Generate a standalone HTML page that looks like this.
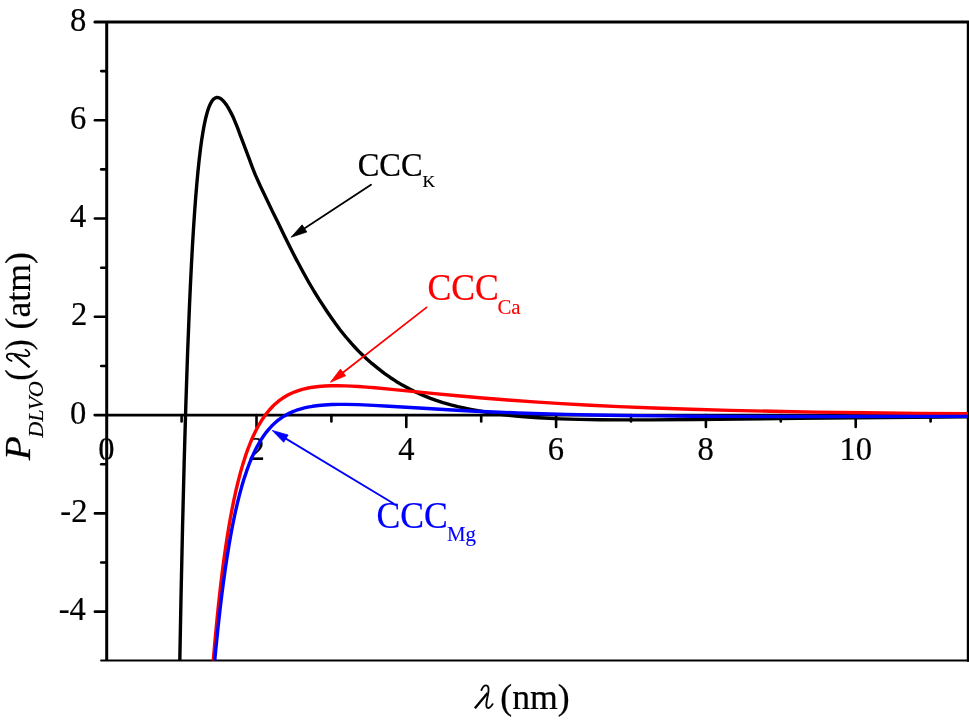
<!DOCTYPE html>
<html><head><meta charset="utf-8"><style>
html,body{margin:0;padding:0;background:#fff;width:969px;height:720px;overflow:hidden}
svg{display:block;will-change:transform}
text{font-family:"Liberation Serif",serif}
</style></head><body>
<svg width="969" height="720" viewBox="0 0 969 720">
<rect width="969" height="720" fill="#fff"/>
<line x1="106.7" y1="21.980000000000018" x2="106.7" y2="660.8" stroke="#000" stroke-width="3"/>
<line x1="94.9" y1="21.980000000000018" x2="970" y2="21.980000000000018" stroke="#000" stroke-width="3" stroke-linecap="round"/>
<line x1="968.3" y1="21.980000000000018" x2="968.3" y2="661.8" stroke="#000" stroke-width="3"/>
<line x1="101.2" y1="660.5" x2="970" y2="660.5" stroke="#000" stroke-width="2.2" stroke-linecap="round"/>
<line x1="94.7" y1="415.1" x2="970" y2="415.1" stroke="#000" stroke-width="2.7" stroke-linecap="round"/>
<line x1="94.9" y1="611.66" x2="106.7" y2="611.66" stroke="#000" stroke-width="2.6" stroke-linecap="round"/>
<line x1="101.2" y1="562.52" x2="106.7" y2="562.52" stroke="#000" stroke-width="2.6" stroke-linecap="round"/>
<line x1="94.9" y1="513.38" x2="106.7" y2="513.38" stroke="#000" stroke-width="2.6" stroke-linecap="round"/>
<line x1="101.2" y1="464.24" x2="106.7" y2="464.24" stroke="#000" stroke-width="2.6" stroke-linecap="round"/>
<line x1="101.2" y1="365.96" x2="106.7" y2="365.96" stroke="#000" stroke-width="2.6" stroke-linecap="round"/>
<line x1="94.9" y1="316.82" x2="106.7" y2="316.82" stroke="#000" stroke-width="2.6" stroke-linecap="round"/>
<line x1="101.2" y1="267.68" x2="106.7" y2="267.68" stroke="#000" stroke-width="2.6" stroke-linecap="round"/>
<line x1="94.9" y1="218.54" x2="106.7" y2="218.54" stroke="#000" stroke-width="2.6" stroke-linecap="round"/>
<line x1="101.2" y1="169.40" x2="106.7" y2="169.40" stroke="#000" stroke-width="2.6" stroke-linecap="round"/>
<line x1="94.9" y1="120.26" x2="106.7" y2="120.26" stroke="#000" stroke-width="2.6" stroke-linecap="round"/>
<line x1="101.2" y1="71.12" x2="106.7" y2="71.12" stroke="#000" stroke-width="2.6" stroke-linecap="round"/>
<line x1="181.60" y1="415.1" x2="181.60" y2="421.40" stroke="#000" stroke-width="2.6" stroke-linecap="round"/>
<line x1="256.50" y1="415.1" x2="256.50" y2="427.00" stroke="#000" stroke-width="2.6" stroke-linecap="round"/>
<line x1="331.40" y1="415.1" x2="331.40" y2="421.40" stroke="#000" stroke-width="2.6" stroke-linecap="round"/>
<line x1="406.30" y1="415.1" x2="406.30" y2="427.00" stroke="#000" stroke-width="2.6" stroke-linecap="round"/>
<line x1="481.20" y1="415.1" x2="481.20" y2="421.40" stroke="#000" stroke-width="2.6" stroke-linecap="round"/>
<line x1="556.10" y1="415.1" x2="556.10" y2="427.00" stroke="#000" stroke-width="2.6" stroke-linecap="round"/>
<line x1="631.00" y1="415.1" x2="631.00" y2="421.40" stroke="#000" stroke-width="2.6" stroke-linecap="round"/>
<line x1="705.90" y1="415.1" x2="705.90" y2="427.00" stroke="#000" stroke-width="2.6" stroke-linecap="round"/>
<line x1="780.80" y1="415.1" x2="780.80" y2="421.40" stroke="#000" stroke-width="2.6" stroke-linecap="round"/>
<line x1="855.70" y1="415.1" x2="855.70" y2="427.00" stroke="#000" stroke-width="2.6" stroke-linecap="round"/>
<line x1="930.60" y1="415.1" x2="930.60" y2="421.40" stroke="#000" stroke-width="2.6" stroke-linecap="round"/>
<text transform="matrix(0.815 0 0 0.855 58.655 620.31)" font-size="40" fill="#000" stroke="#000" stroke-width="0.25" >-4</text>
<text transform="matrix(0.815 0 0 0.855 60.285 522.03)" font-size="40" fill="#000" stroke="#000" stroke-width="0.25" >-2</text>
<text transform="matrix(0.815 0 0 0.855 70.065 423.75)" font-size="40" fill="#000" stroke="#000" stroke-width="0.25" >0</text>
<text transform="matrix(0.815 0 0 0.855 70.88 325.47)" font-size="40" fill="#000" stroke="#000" stroke-width="0.25" >2</text>
<text transform="matrix(0.815 0 0 0.855 70.065 227.19)" font-size="40" fill="#000" stroke="#000" stroke-width="0.25" >4</text>
<text transform="matrix(0.815 0 0 0.855 70.065 128.91)" font-size="40" fill="#000" stroke="#000" stroke-width="0.25" >6</text>
<text transform="matrix(0.815 0 0 0.855 70.065 30.63)" font-size="40" fill="#000" stroke="#000" stroke-width="0.25" >8</text>
<text transform="matrix(0.815 0 0 0.855 98.343 460.25)" font-size="40" fill="#000" stroke="#000" stroke-width="0.25" >0</text>
<text transform="matrix(0.815 0 0 0.855 248.55 460.25)" font-size="40" fill="#000" stroke="#000" stroke-width="0.25" >2</text>
<text transform="matrix(0.815 0 0 0.855 398.35 460.25)" font-size="40" fill="#000" stroke="#000" stroke-width="0.25" >4</text>
<text transform="matrix(0.815 0 0 0.855 547.743 460.25)" font-size="40" fill="#000" stroke="#000" stroke-width="0.25" >6</text>
<text transform="matrix(0.815 0 0 0.855 697.543 460.25)" font-size="40" fill="#000" stroke="#000" stroke-width="0.25" >8</text>
<text transform="matrix(0.815 0 0 0.855 839.577 460.25)" font-size="40" fill="#000" stroke="#000" stroke-width="0.25" >10</text>
<defs><clipPath id="c"><rect x="106" y="21" width="862" height="639.5"/></clipPath></defs><g clip-path="url(#c)">
<path d="M179.52,675.54 L180.98,598.83 L182.52,528.13 L184.14,463.44 L185.80,405.95 L187.58,353.28 L189.44,306.62 L190.42,285.09 L191.43,264.77 L192.47,245.66 L193.48,228.95 L194.51,213.44 L195.65,197.95 L196.73,184.85 L197.93,171.78 L199.16,159.92 L200.43,149.28 L201.71,139.85 L203.01,131.63 L204.29,124.64 L205.80,117.71 L207.32,112.03 L208.79,107.59 L209.66,105.43 L210.65,103.34 L211.80,101.35 L212.46,100.42 L213.19,99.56 L214.01,98.78 L214.94,98.14 L215.98,97.69 L217.13,97.49 L218.33,97.61 L219.50,98.01 L220.59,98.61 L221.60,99.34 L222.53,100.16 L224.23,101.96 L226.46,104.88 L228.92,108.97 L230.63,112.13 L232.25,115.33 L233.77,118.57 L236.89,126.19 L238.15,129.48 L240.13,134.99 L241.87,139.41 L249.41,159.36 L252.27,167.13 L255.33,174.90 L260.32,185.99 L272.45,211.36 L277.85,222.32 L284.72,236.47 L291.68,250.49 L296.64,260.12 L297.83,262.24 L303.47,272.81 L308.74,282.21 L314.21,291.50 L319.26,299.63 L327.20,311.73 L331.34,317.81 L335.61,323.82 L340.01,329.73 L343.02,333.52 L346.09,337.25 L351.62,343.66 L356.52,349.01 L359.03,351.63 L360.72,353.30 L366.79,358.99 L372.16,363.68 L377.69,368.19 L384.34,373.28 L390.21,377.47 L396.23,381.42 L402.38,385.10 L405.51,386.85 L409.73,389.10 L416.17,392.27 L419.42,393.78 L423.81,395.69 L430.47,398.37 L436.08,400.43 L442.89,402.61 L450.92,404.90 L457.86,406.65 L464.86,408.21 L470.71,409.39 L483.68,411.76 L491.97,413.08 L500.29,414.23 L508.63,415.23 L518.18,416.20 L527.74,417.01 L538.51,417.76 L549.30,418.36 L560.09,418.83 L579.28,419.42 L599.67,419.77 L622.47,419.91 L650.07,419.87 L694.47,419.51 L798.87,418.33 L855.26,417.76 L914.06,417.27 L975.54,416.86" fill="none" stroke="#000" stroke-width="3.4" stroke-linejoin="round"/>
<path d="M212.10,675.54 L213.54,657.64 L215.08,639.76 L216.64,623.07 L218.32,606.41 L220.01,590.94 L221.84,575.50 L223.67,561.27 L225.50,548.24 L227.48,535.25 L229.43,523.46 L231.56,511.70 L233.65,501.16 L235.93,490.65 L238.15,481.37 L240.56,472.13 L242.88,464.11 L245.41,456.16 L247.77,449.41 L250.36,442.75 L253.18,436.19 L254.70,432.96 L256.30,429.77 L259.15,424.55 L262.26,419.48 L264.26,416.53 L265.66,414.61 L267.86,411.80 L269.39,409.98 L272.62,406.48 L274.32,404.82 L276.08,403.22 L277.90,401.68 L279.78,400.21 L281.71,398.81 L283.69,397.49 L285.72,396.24 L287.80,395.07 L289.93,393.98 L292.09,392.97 L294.30,392.04 L297.66,390.79 L302.24,389.39 L304.56,388.79 L308.07,388.01 L312.79,387.19 L318.74,386.45 L324.72,385.98 L330.71,385.74 L337.91,385.69 L345.11,385.84 L351.10,386.09 L358.29,386.50 L366.67,387.10 L375.04,387.79 L391.77,389.35 L434.76,393.63 L457.46,395.79 L482.56,398.01 L507.68,400.02 L534.01,401.90 L561.55,403.64 L590.31,405.23 L619.08,406.60 L653.85,408.01 L691.03,409.27 L729.41,410.34 L771.40,411.28 L815.79,412.08 L864.99,412.77 L917.79,413.34 L975.54,413.80" fill="none" stroke="#f00" stroke-width="3.4" stroke-linejoin="round"/>
<path d="M213.38,675.54 L215.00,657.66 L216.63,640.98 L218.24,625.50 L219.97,610.04 L221.68,595.78 L223.53,581.55 L225.35,568.52 L227.13,556.70 L229.05,544.90 L230.91,534.31 L232.92,523.74 L235.11,513.22 L237.22,503.91 L239.53,494.64 L241.72,486.59 L244.12,478.59 L246.75,470.68 L249.22,463.97 L251.93,457.36 L254.39,451.94 L257.08,446.64 L260.01,441.47 L261.90,438.44 L263.22,436.47 L266.02,432.62 L268.26,429.84 L269.82,428.05 L271.44,426.31 L273.12,424.62 L274.86,423.00 L276.65,421.44 L278.51,419.95 L280.42,418.52 L282.39,417.18 L284.41,415.91 L286.47,414.72 L288.59,413.60 L290.74,412.57 L292.93,411.61 L295.16,410.74 L297.41,409.93 L301.99,408.54 L304.31,407.94 L307.82,407.15 L312.54,406.30 L318.48,405.51 L324.45,404.96 L331.64,404.56 L338.84,404.40 L346.04,404.40 L358.03,404.67 L373.62,405.35 L389.20,406.23 L427.52,408.57 L447.89,409.76 L470.66,410.95 L493.43,412.00 L517.41,412.94 L541.40,413.73 L566.59,414.41 L592.99,414.98 L624.18,415.49 L657.78,415.89 L693.78,416.18 L734.58,416.38 L778.98,416.49 L830.58,416.52 L975.54,416.35" fill="none" stroke="#00f" stroke-width="3.4" stroke-linejoin="round"/>
</g>
<line x1="371" y1="184.8" x2="302.81" y2="229.52" stroke="#000" stroke-width="1.8" stroke-linecap="round"/><polygon points="291.10,237.20 302.15,224.87 306.81,231.98" fill="#000" stroke="#000" stroke-width="0.8" stroke-linejoin="round"/>
<line x1="426.6" y1="307.4" x2="341.45" y2="373.70" stroke="#f00" stroke-width="1.8" stroke-linecap="round"/><polygon points="330.40,382.30 340.41,369.12 345.64,375.82" fill="#f00" stroke="#f00" stroke-width="0.8" stroke-linejoin="round"/>
<line x1="393.5" y1="503.4" x2="284.20" y2="437.62" stroke="#00f" stroke-width="1.8" stroke-linecap="round"/><polygon points="272.20,430.40 288.10,435.01 283.72,442.29" fill="#00f" stroke="#00f" stroke-width="0.8" stroke-linejoin="round"/>
<text transform="matrix(0.812 0 0 0.865 357.676 176.4)" font-size="40" fill="#000" stroke="#000" stroke-width="0.25" >CCC</text>
<text transform="matrix(0.436 0 0 0.438 422.464 187.2)" font-size="40" fill="#000" stroke="#000" stroke-width="0.25" >K</text>
<text transform="matrix(0.891 0 0 0.962 427.418 300.4)" font-size="40" fill="#f00" stroke="#f00" stroke-width="0.25" >CCC</text>
<text transform="matrix(0.521 0 0 0.542 497.457 313.5)" font-size="40" fill="#f00" stroke="#f00" stroke-width="0.25" >Ca</text>
<text transform="matrix(0.891 0 0 0.958 376.518 528.1)" font-size="40" fill="#00f" stroke="#00f" stroke-width="0.25" >CCC</text>
<text transform="matrix(0.522 0 0 0.531 446.878 541.417)" font-size="40" fill="#00f" stroke="#00f" stroke-width="0.25" >Mg</text>
<g transform="translate(474,709.6)"><path d="M7.4,-19.5 C8.5,-22.1 10.5,-24.3 12.2,-24.2 C14.6,-24 14.8,-21.1 14.4,-17.6 C13.9,-13.6 12.3,-8.6 12.3,-4.6 C12.4,-2 13.6,-1.3 15,-1.7 C16.6,-2.2 17.8,-4.1 18.6,-5.5" fill="none" stroke="#000" stroke-width="1.85" stroke-linecap="round"/><path d="M13.6,-16.6 L0.9,-1.3" fill="none" stroke="#000" stroke-width="2.4"/></g>
<text transform="matrix(0.893 0 0 0.906 500.314 709.256)" font-size="40" fill="#000" stroke="#000" stroke-width="0.25" >(nm)</text>
<text transform="matrix(0 -0.987 0.888 0 29.5 460.3)" font-size="40" fill="#000" stroke="#000" stroke-width="0.25" font-style="italic">P</text>
<text transform="matrix(0 -0.555 0.535 0 43.165 437.8)" font-size="40" fill="#000" stroke="#000" stroke-width="0.25" font-style="italic">DLVO</text>
<text transform="matrix(0 -0.86 0.875 0 30 380.82)" font-size="40" fill="#000" stroke="#000" stroke-width="0.25" >(</text>
<g transform="matrix(0,-1,1,0,31,368.3)"><path d="M7.4,-19.5 C8.5,-22.1 10.5,-24.3 12.2,-24.2 C14.6,-24 14.8,-21.1 14.4,-17.6 C13.9,-13.6 12.3,-8.6 12.3,-4.6 C12.4,-2 13.6,-1.3 15,-1.7 C16.6,-2.2 17.8,-4.1 18.6,-5.5" fill="none" stroke="#000" stroke-width="1.85" stroke-linecap="round"/><path d="M13.6,-16.6 L0.9,-1.3" fill="none" stroke="#000" stroke-width="2.4"/></g>
<text transform="matrix(0 -0.818 0.891 0 29.569 350.318)" font-size="40" fill="#000" stroke="#000" stroke-width="0.25" >)</text>
<text transform="matrix(0 -0.892 0.875 0 30 329.383)" font-size="40" fill="#000" stroke="#000" stroke-width="0.25" >(atm)</text>
</svg></body></html>
